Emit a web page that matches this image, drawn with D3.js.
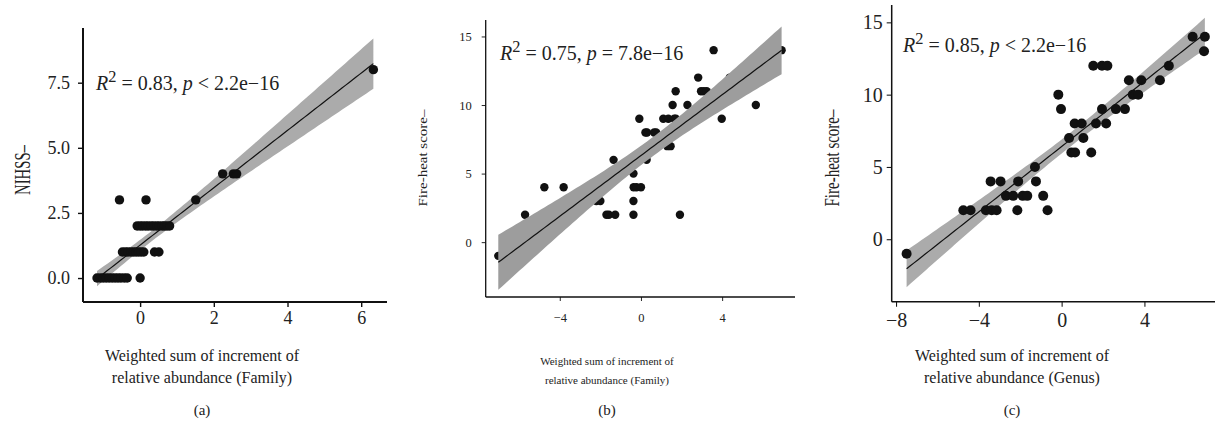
<!DOCTYPE html>
<html>
<head>
<meta charset="utf-8">
<script src="https://cdn.jsdelivr.net/npm/d3@7"></script>
<style>
  body { margin: 0; background: #fff; }
  svg text { font-family: "Liberation Serif", "Times New Roman", serif; fill: #222; }
</style>
</head>
<body>
<div id="viz"></div>
<script>
// (a) NIHSS vs weighted sum (Family)
const nihssX = [-1.17, -1.08, -1.0, -0.92, -0.84, -0.76, -0.68, -0.6, -0.52, -0.43, -0.35, 0.0,
                -0.48, -0.40, -0.33, -0.25, -0.18, -0.11, -0.04, 0.03, 0.10, 0.39, 0.51,
                -0.08, 0.0, 0.07, 0.15, 0.22, 0.30, 0.37, 0.45, 0.52, 0.60, 0.66, 0.73, 0.80,
                -0.56, 0.16, 1.51,
                2.24, 2.53, 2.62,
                6.33];
const nihssY = [0, 0, 0, 0, 0, 0, 0, 0, 0, 0, 0, 0,
                1, 1, 1, 1, 1, 1, 1, 1, 1, 1, 1,
                2, 2, 2, 2, 2, 2, 2, 2, 2, 2, 2, 2, 2,
                3, 3, 3,
                4, 4, 4,
                8];

// (b) Fire-heat score vs weighted sum (Family)
const fireFamX = [-7.03, -5.71, -4.76, -3.81, -2.2, -2.0, -1.7, -1.58, -1.27, -1.35,
                  -0.37, -0.36, -0.22, 0.0, -0.37, -0.37, -0.08, 0.22, 0.3, 0.28,
                  0.65, 0.75, 1.1, 1.35, 1.64, 1.72, 1.3, 1.46, 1.56, 1.71,
                  1.92, 2.29, 2.82, 2.96, 3.1, 3.24, 3.58, 3.98, 4.38, 5.66, 6.93];
const fireFamY = [-1, 2, 4, 4, 3, 3, 2, 2, 2, 6,
                  5, 4, 4, 4, 3, 2, 9, 8, 8, 6,
                  8, 8, 9, 9, 9, 9, 7, 7, 10, 11,
                  2, 10, 12, 11, 11, 11, 14, 9, 12, 10, 14];

// (c) Fire-heat score vs weighted sum (Genus)
const fireGenX = [-7.49, -4.75, -4.4, -3.66, -3.38, -3.14, -2.14, -0.68,
                  -2.69, -2.34, -1.88, -1.66, -0.89,
                  -3.43, -2.95, -2.1, -1.24, -1.29,
                  -0.16, -0.03, 0.36, 1.05, 0.47, 0.65, 1.43,
                  0.63, 0.97, 1.66, 2.15, 1.95, 2.62, 3.06,
                  1.53, 1.95, 2.21, 3.25, 3.44, 3.7, 3.85, 4.75, 5.18,
                  6.33, 6.92, 6.88];
const fireGenY = [-1, 2, 2, 2, 2, 2, 2, 2,
                  3, 3, 3, 3, 3,
                  4, 4, 4, 4, 5,
                  10, 9, 7, 7, 6, 6, 6,
                  8, 8, 8, 8, 9, 9, 9,
                  12, 12, 12, 11, 10, 10, 11, 11, 12,
                  14, 14, 13];

const ticksAX = [0, 2, 4, 6],   ticksAY = [0, 2.5, 5, 7.5];
const ticksBX = [-4, 0, 4],     ticksBY = [0, 5, 10, 15];
const ticksCX = [-8, -4, 0, 4], ticksCY = [0, 5, 10, 15];

const statsA = ["0.83", "<", "2.2e\u221216"];
const statsB = ["0.75", "=", "7.8e\u221216"];
const statsC = ["0.85", "<", "2.2e\u221216"];

const xTitleFamily = ["Weighted sum of increment of", "relative abundance (Family)"];
const xTitleGenus  = ["Weighted sum of increment of", "relative abundance (Genus)"];

const SERIF = "'Liberation Serif', 'Times New Roman', serif";
const W = 1215, H = 428;
const svg = d3.select("#viz").append("svg")
    .attr("width", W).attr("height", H);
svg.append("rect").attr("width", W).attr("height", H).attr("fill", "#fff");

// lm fit with 95% confidence band (like geom_smooth(method = "lm"))
function lmBand(xs, ys) {
    const n = xs.length;
    const mx = d3.mean(xs), my = d3.mean(ys);
    let sxx = 0, sxy = 0;
    for (let i = 0; i < n; i++) { sxx += (xs[i] - mx) ** 2; sxy += (xs[i] - mx) * (ys[i] - my); }
    const b = sxy / sxx, a = my - b * mx;
    let sse = 0;
    for (let i = 0; i < n; i++) sse += (ys[i] - a - b * xs[i]) ** 2;
    const s = Math.sqrt(sse / (n - 2));
    const df = n - 2, z = 1.959964;
    const t = z + (z ** 3 + z) / (4 * df) + (5 * z ** 5 + 16 * z ** 3 + 3 * z) / (96 * df * df);
    const [x0, x1] = d3.extent(xs);
    return d3.range(81).map(k => {
        const x = x0 + (x1 - x0) * k / 80;
        const yh = a + b * x;
        const se = s * Math.sqrt(1 / n + (x - mx) ** 2 / sxx);
        return { x: x, y: yh, lo: yh - t * se, hi: yh + t * se };
    });
}

function panel(cfg) {
    const x = d3.scaleLinear().domain(cfg.xDomain).range(cfg.xRange);
    const y = d3.scaleLinear().domain(cfg.yDomain).range(cfg.yRange);
    const g = svg.append("g");
    const fit = lmBand(cfg.xs, cfg.ys);
    const pts = cfg.xs.map((v, i) => [v, cfg.ys[i]]);

    const drawBand = () => g.append("path").datum(fit)
        .attr("fill", cfg.bandColor)
        .attr("d", d3.area().x(d => x(d.x)).y0(d => y(d.lo)).y1(d => y(d.hi)));
    const drawPoints = () => g.append("g").selectAll("circle").data(pts).join("circle")
        .attr("cx", d => x(d[0])).attr("cy", d => y(d[1]))
        .attr("r", cfg.r).attr("fill", "#111");

    if (cfg.bandOnTop) { drawPoints(); drawBand(); }
    else { drawBand(); drawPoints(); }

    g.append("path").datum(fit)
        .attr("fill", "none").attr("stroke", "#111").attr("stroke-width", 1.2)
        .attr("d", d3.line().x(d => x(d.x)).y(d => y(d.y)));

    // axes
    const ax = g.append("g")
        .attr("transform", `translate(0,${cfg.yRange[0]})`)
        .call(d3.axisBottom(x).tickValues(cfg.xTicks).tickSize(cfg.tick).tickSizeOuter(0)
            .tickPadding(cfg.xPad).tickFormat(d => d3.format("")(d).replace("-", "\u2212")));
    const ay = g.append("g")
        .attr("transform", `translate(${cfg.xRange[0]},0)`)
        .call(d3.axisLeft(y).tickValues(cfg.yTicks).tickSize(cfg.tick).tickSizeOuter(0)
            .tickPadding(cfg.yPad).tickFormat(cfg.yFormat));
    [ax, ay].forEach(a => {
        a.select(".domain").attr("stroke", "#111").attr("stroke-width", cfg.axisW);
        a.selectAll(".tick line").attr("stroke", "#111").attr("stroke-width", cfg.axisW * 0.7);
        a.selectAll(".tick text").attr("font-size", cfg.tickFont).attr("fill", "#222")
            .style("font-family", SERIF);
    });
    ay.select(".domain").attr("d", `M0,${cfg.yRange[0]}V${cfg.yRange[1]}`);
    ax.select(".domain").attr("d", `M${cfg.xRange[0]},0H${cfg.xRange[1]}`);

    // stats annotation
    const st = g.append("text").attr("x", cfg.statPos[0]).attr("y", cfg.statPos[1])
        .attr("font-size", cfg.statFont).style("font-family", SERIF);
    st.append("tspan").attr("font-style", "italic").text("R");
    st.append("tspan").attr("dy", -cfg.statFont * 0.38).attr("font-size", cfg.statFont * 0.82).text("2");
    st.append("tspan").attr("dy", cfg.statFont * 0.38).text(` = ${cfg.stats[0]}, `);
    st.append("tspan").attr("font-style", "italic").text("p");
    st.append("tspan").text(` ${cfg.stats[1]} ${cfg.stats[2]}`);

    // y title
    g.append("text")
        .attr("transform", `translate(${cfg.yTitlePos[0]},${cfg.yTitlePos[1]}) rotate(-90)`)
        .attr("text-anchor", "middle").attr("dominant-baseline", "central")
        .attr("font-size", cfg.yTitleFont).style("font-family", SERIF)
        .attr("textLength", cfg.yTitleLen).attr("lengthAdjust", "spacingAndGlyphs")
        .text(cfg.yTitle);

    // x title (two lines)
    cfg.xTitle.forEach((line, i) => {
        g.append("text").attr("x", cfg.cx).attr("y", cfg.xTitleY + i * cfg.xTitleGap)
            .attr("text-anchor", "middle").attr("font-size", cfg.xTitleFont)
            .style("font-family", SERIF).text(line);
    });

    // panel label
    g.append("text").attr("x", cfg.cx).attr("y", 415)
        .attr("text-anchor", "middle").attr("font-size", 15)
        .style("font-family", SERIF).text(cfg.label);
}

panel({
    xs: nihssX, ys: nihssY,
    xDomain: [-1.55, 6.7], xRange: [83, 387],
    yDomain: [-0.92, 9.6], yRange: [302, 28],
    xTicks: ticksAX, yTicks: ticksAY, yFormat: d3.format(".1f"),
    tick: 5, xPad: 4, yPad: 8, axisW: 2, tickFont: 18,
    r: 4.7, bandColor: "#ababab", bandOnTop: false,
    stats: statsA, statPos: [96, 90], statFont: 20,
    yTitle: "NIHSS\u2013", yTitlePos: [22, 170], yTitleFont: 23, yTitleLen: 50,
    xTitle: xTitleFamily, xTitleY: 361, xTitleGap: 22, xTitleFont: 16,
    cx: 202, label: "(a)"
});

panel({
    xs: fireFamX, ys: fireFamY,
    xDomain: [-7.65, 7.59], xRange: [485.7, 795],
    yDomain: [-4.0, 16.2], yRange: [297, 20],
    xTicks: ticksBX, yTicks: ticksBY, yFormat: d3.format(""),
    tick: 4, xPad: 12, yPad: 10, axisW: 1.3, tickFont: 12.5,
    r: 4.2, bandColor: "#9d9d9d", bandOnTop: true,
    stats: statsB, statPos: [500, 60], statFont: 20,
    yTitle: "Fire-heat score\u2013", yTitlePos: [422.5, 158], yTitleFont: 13.5, yTitleLen: 97,
    xTitle: xTitleFamily, xTitleY: 365, xTitleGap: 19, xTitleFont: 11,
    cx: 607, label: "(b)"
});

panel({
    xs: fireGenX, ys: fireGenY,
    xDomain: [-8.21, 7.41], xRange: [891.7, 1215],
    yDomain: [-4.32, 16.2], yRange: [301.7, 5],
    xTicks: ticksCX, yTicks: ticksCY, yFormat: d3.format(""),
    tick: 5, xPad: 6, yPad: 4, axisW: 1.5, tickFont: 20,
    r: 5, bandColor: "#ababab", bandOnTop: false,
    stats: statsC, statPos: [903, 52], statFont: 20,
    yTitle: "Fire-heat score\u2013", yTitlePos: [831.5, 158], yTitleFont: 22, yTitleLen: 97,
    xTitle: xTitleGenus, xTitleY: 361, xTitleGap: 22, xTitleFont: 16,
    cx: 1012, label: "(c)"
});
</script>
</body>
</html>
